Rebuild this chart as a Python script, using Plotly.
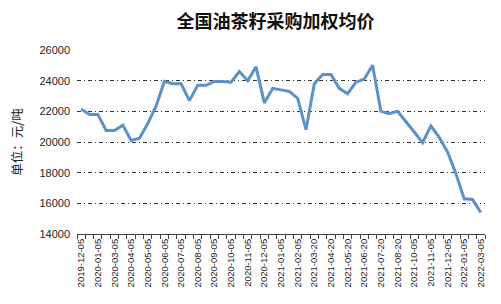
import plotly.graph_objects as go

title = "全国油茶籽采购加权均价"
y_title = "单位：元/吨"

dates = [
    "2019-12-05", "2019-12-20", "2020-01-05", "2020-01-20", "2020-03-05", "2020-03-20",
    "2020-04-05", "2020-04-20", "2020-05-05", "2020-05-20", "2020-06-05", "2020-06-20",
    "2020-07-05", "2020-07-20", "2020-08-05", "2020-08-20", "2020-09-05", "2020-09-20",
    "2020-10-05", "2020-10-20", "2020-11-05", "2020-11-20", "2020-12-05", "2020-12-20",
    "2021-01-05", "2021-01-20", "2021-02-05", "2021-03-05", "2021-03-20", "2021-04-05",
    "2021-04-20", "2021-05-05", "2021-05-20", "2021-06-05", "2021-06-20", "2021-07-05",
    "2021-07-20", "2021-08-05", "2021-08-20", "2021-09-20", "2021-10-05", "2021-10-20",
    "2021-11-05", "2021-11-20", "2021-12-05", "2021-12-20", "2022-01-05", "2022-02-20",
    "2022-03-05",
]

prices = [
    22150, 21800, 21800, 20750, 20750, 21100, 20100, 20250, 21200, 22350,
    23950, 23800, 23800, 22700, 23700, 23700, 23950, 23950, 23900, 24600,
    24000, 24900, 22550, 23500, 23400, 23300, 22850, 20800, 23800, 24400,
    24400, 23500, 23150, 23900, 24100, 25000, 22000, 21850, 22000, 21350,
    20650, 19950, 21050, 20300, 19350, 17950, 16300, 16250, 15400,
]

y_ticks = [14000, 16000, 18000, 20000, 22000, 24000, 26000]

# label every other category
tick_text = [d if i % 2 == 0 else "" for i, d in enumerate(dates)]

fig = go.Figure()
fig.add_trace(go.Scatter(
    x=dates, y=prices, mode="lines",
    line=dict(color="#5B93C8", width=3),
    showlegend=False,
))

fig.update_layout(
    width=501, height=304,
    margin=dict(l=77, r=16, t=50, b=70),
    paper_bgcolor="white", plot_bgcolor="white",
    title=dict(text="<b>" + title + "</b>", x=0.55, xanchor="center", y=0.93, yanchor="middle",
               font=dict(family="Noto Sans CJK SC", size=18, color="#111111")),
    font=dict(family="Liberation Sans", color="#222222"),
)

fig.update_xaxes(
    type="category", range=[-0.5, len(dates) - 0.5],
    tickmode="array", tickvals=dates, ticktext=tick_text,
    tickangle=-90, tickfont=dict(size=9.5, family="Liberation Sans", color="#222222"),
    ticks="outside", ticklen=4, tickcolor="#404040", tickson="boundaries",
    showline=True, linecolor="#404040", linewidth=1,
    showgrid=False,
)

fig.update_yaxes(
    range=[14000, 26000], tickmode="array", tickvals=y_ticks,
    ticktext=[str(v) for v in y_ticks],
    tickfont=dict(size=11, family="Liberation Sans", color="#222222"),
    ticklabelstandoff=6,
    showgrid=True, gridcolor="#333333", gridwidth=1, griddash="4px,3px,1px,3px",
    zeroline=False, showline=False, ticks="",
    title=dict(text=y_title, font=dict(family="Noto Sans CJK SC", size=12.5, color="#222222"), standoff=14),
)

fig.write_html("out.html")
